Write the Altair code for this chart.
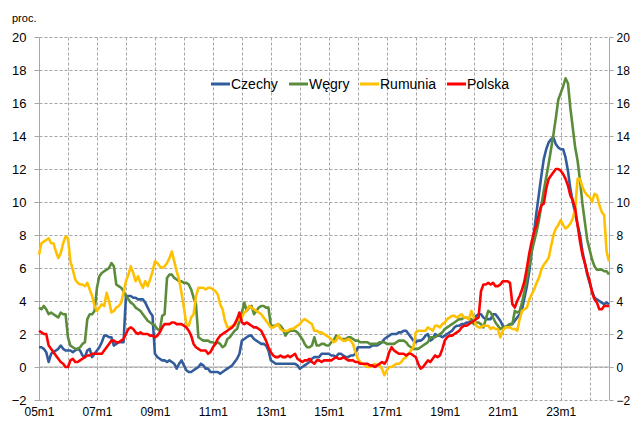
import altair as alt
import pandas as pd

# Monthly values, 2005m1 .. 2024m9 (proc.)
czechy = [
    1.2, 1.2, 1.1, 0.9, 0.3, 0.8, 0.9, 1.0, 1.1, 1.3, 1.1, 1.0,
    1.0, 1.0, 0.9, 1.0, 1.1, 1.0, 0.7, 0.6, 1.0, 1.1, 0.6, 0.8,
    1.0, 1.2, 1.5, 1.9, 1.9, 1.8, 1.8, 1.3, 1.4, 1.5, 1.5, 1.5,
    4.3, 4.3, 4.3, 4.2, 4.2, 4.1, 4.1, 4.1, 3.9, 3.6, 3.3, 3.1,
    0.8, 0.6, 0.5, 0.4, 0.4, 0.3, 0.4, 0.3, 0.2, -0.1, 0.2, 0.4,
    0.1, -0.2, -0.3, -0.3, -0.2, -0.1, 0.0, 0.2, 0.1, -0.1, -0.1, -0.3,
    -0.3, -0.3, -0.3, -0.4, -0.3, -0.2, -0.1, 0.0, 0.1, 0.3, 0.5, 0.8,
    1.6, 1.7, 1.8, 1.9, 1.9, 1.7, 1.6, 1.5, 1.4, 1.4, 1.3, 1.0,
    0.4, 0.3, 0.2, 0.2, 0.2, 0.2, 0.2, 0.2, 0.2, 0.2, 0.2, 0.1,
    -0.1, 0.0, 0.1, 0.2, 0.3, 0.5, 0.6, 0.6, 0.6, 0.8, 0.8, 0.8,
    0.8, 0.7, 0.7, 0.6, 0.8, 0.8, 0.7, 0.6, 0.6, 0.7, 0.7, 0.8,
    1.2, 1.2, 1.2, 1.2, 1.2, 1.2, 1.3, 1.3, 1.3, 1.4, 1.5, 1.7,
    1.8, 1.9, 2.0, 2.0, 2.0, 2.1, 2.1, 2.2, 2.2, 2.0, 1.8, 1.6,
    1.5, 1.6, 1.6, 1.7, 1.9, 2.0, 1.6, 1.7, 2.0, 1.9, 1.9, 1.8,
    1.9, 2.0, 2.1, 2.2, 2.4, 2.5, 2.5, 2.6, 2.6, 2.7, 2.7, 2.8,
    2.8, 3.1, 3.2, 3.2, 3.0, 2.9, 2.9, 2.9, 3.2, 3.2, 3.0, 2.8,
    2.5, 2.4, 2.5, 2.6, 2.6, 2.8, 3.0, 3.2, 3.5, 4.2, 4.9, 5.8,
    7.0, 8.2, 9.4, 10.5, 11.6, 12.6, 13.2, 13.6, 13.8, 13.9, 13.5, 13.3,
    13.2, 13.2, 12.7, 11.9, 10.8, 10.0, 9.3, 8.6, 8.0, 7.0, 6.3, 5.6,
    5.1, 4.6, 4.2, 4.1, 4.0, 3.9, 3.8, 3.9, 3.8,
]
wegry = [
    3.6, 3.5, 3.7, 3.5, 3.2, 3.3, 3.2, 3.1, 3.0, 3.3, 3.2, 3.2,
    1.8, 1.3, 1.2, 1.1, 1.1, 1.2, 1.4, 1.5, 2.9, 3.2, 3.2, 3.4,
    4.8, 5.5, 5.7, 5.8, 5.9, 6.0, 6.3, 6.1, 5.0, 4.9, 4.8, 4.6,
    4.3, 4.1, 3.9, 3.8, 3.6, 3.5, 3.4, 3.2, 3.0, 2.8, 2.7, 2.6,
    2.5, 2.3, 2.2, 3.1, 3.2, 5.4, 5.6, 5.6, 5.4, 5.3, 5.2, 5.2,
    5.1, 5.1, 5.0, 4.7, 4.2, 3.8, 1.8, 1.7, 1.6, 1.6, 1.6, 1.5,
    1.5, 1.4, 1.5, 1.4, 1.2, 1.3, 1.7, 1.8, 2.0, 2.2, 2.3, 2.8,
    3.3, 3.9, 3.4, 3.6, 3.7, 3.2, 3.4, 3.6, 3.7, 3.7, 3.6, 3.6,
    2.5, 2.5, 2.5, 2.6, 2.5, 2.3, 1.9, 2.1, 2.2, 2.2, 2.2, 2.1,
    1.9, 1.7, 1.4, 1.2, 1.2, 1.3, 1.8, 1.3, 1.3, 1.4, 1.4, 1.3,
    1.3, 1.5, 1.6, 1.9, 1.8, 1.7, 1.7, 1.7, 1.8, 1.8, 1.7, 1.6,
    1.6, 1.5, 1.5, 1.5, 1.5, 1.4, 1.4, 1.4, 1.4, 1.5, 1.5, 1.5,
    1.4, 1.4, 1.4, 1.4, 1.5, 1.6, 1.6, 1.6, 1.5, 1.3, 1.2, 1.1,
    1.1, 1.1, 1.2, 1.3, 1.4, 1.5, 1.8, 1.8, 1.8, 1.9, 2.0, 2.1,
    2.3, 2.4, 2.5, 2.6, 2.7, 2.8, 2.9, 2.9, 3.0, 3.0, 2.9, 2.9,
    2.6, 2.7, 2.7, 2.6, 2.4, 2.9, 3.4, 3.3, 3.0, 2.7, 2.5, 2.3,
    2.4, 2.4, 2.5, 2.6, 2.6, 3.4, 3.3, 3.4, 3.9, 4.6, 5.4, 6.1,
    7.0, 7.6, 8.2, 8.9, 9.8, 10.7, 11.5, 12.3, 13.2, 14.1, 15.1, 16.2,
    16.6, 17.0, 17.5, 17.2, 15.7, 14.5, 13.3, 12.5, 11.3, 9.9, 8.8, 7.7,
    7.1, 6.5, 6.1, 5.9, 5.9, 5.9, 5.8, 5.8, 5.6,
]
rumunia = [
    6.8, 7.5, 7.6, 7.7, 7.8, 7.5, 7.5, 7.0, 6.6, 6.9, 7.5, 7.9,
    7.8, 6.4, 5.9, 5.3, 5.1, 5.0, 5.0, 4.9, 5.1, 4.7, 4.3, 3.7,
    3.4, 3.6, 3.8, 3.7, 4.5, 4.0, 3.3, 3.4, 3.6, 3.7, 3.9, 4.5,
    5.2, 5.6, 6.1, 5.7, 5.2, 5.5, 5.1, 4.8, 5.2, 4.9, 5.3, 5.8,
    6.4, 6.3, 6.1, 6.0, 6.1, 6.3, 6.6, 7.0, 6.4, 5.8, 5.3, 4.5,
    3.6, 2.6, 2.5, 3.0, 3.2, 4.3, 4.8, 4.8, 4.8, 4.7, 4.8, 4.8,
    4.7, 4.6, 4.4, 3.8, 3.5, 2.8, 2.4, 2.4, 2.5, 2.5, 2.8, 2.9,
    3.0, 3.3, 3.4, 3.7, 3.6, 3.5, 3.4, 3.3, 3.2, 3.0, 2.8, 2.6,
    2.4, 2.4, 2.5, 2.6, 2.3, 2.2, 2.2, 2.2, 2.3, 2.3, 2.4, 2.5,
    2.6, 2.8, 2.9, 2.8, 2.7, 2.6, 2.2, 2.2, 2.1, 2.1, 2.0, 1.9,
    1.8, 1.7, 1.5, 1.6, 1.9, 1.7, 1.6, 1.6, 1.7, 1.6, 1.4, 0.9,
    0.5, 0.3, 0.2, 0.1, 0.0, 0.0, 0.1, 0.2, 0.1, 0.1, -0.1, -0.5,
    -0.2, 0.0, 0.0, 0.1, 0.2, 0.2, 0.3, 0.5, 0.6, 0.8, 1.0, 1.2,
    2.1, 2.2, 2.2, 2.2, 2.2, 2.4, 2.3, 2.2, 2.5, 2.5, 2.4, 2.6,
    2.7, 2.9, 3.0, 3.1, 3.1, 3.0, 3.1, 3.2, 3.0, 3.0, 2.9, 3.4,
    3.0, 2.5, 2.4, 2.4, 2.5, 2.5, 2.5, 2.3, 2.4, 2.3, 2.3, 1.8,
    2.2, 2.4, 2.4, 2.4, 2.3, 2.3, 2.2, 2.9, 3.4, 3.5, 3.6, 4.1,
    4.4, 4.7, 5.1, 5.4, 5.9, 6.2, 6.4, 6.6, 7.3, 8.0, 8.4, 8.6,
    8.9, 8.6, 8.4, 8.5, 8.7, 9.0, 9.6, 11.4, 11.4, 10.9, 10.6, 10.4,
    10.3, 10.0, 10.5, 10.4, 9.8, 9.4, 9.2, 7.0, 6.4,
]
polska = [
    2.2, 2.1, 2.0, 2.0, 1.3, 1.1, 0.9, 0.7, 0.5, 0.3, 0.2, 0.0,
    0.0, 0.4, 0.5, 0.3, 0.3, 0.4, 0.5, 0.6, 0.7, 0.7, 0.8, 0.8,
    0.8, 0.8, 0.8, 1.0, 1.2, 1.4, 1.6, 1.6, 1.5, 1.5, 1.6, 1.7,
    2.0, 2.3, 2.4, 2.3, 2.1, 2.0, 2.1, 2.0, 2.0, 2.0, 1.9, 1.9,
    1.8, 1.9, 2.1, 2.4, 2.6, 2.6, 2.6, 2.7, 2.7, 2.6, 2.6, 2.6,
    2.5, 2.4, 2.2, 1.9, 1.4, 1.2, 1.1, 1.0, 1.0, 1.0, 0.8, 0.9,
    1.2, 1.4, 1.7, 1.9, 2.0, 2.1, 2.2, 2.3, 2.4, 2.6, 2.9, 3.3,
    2.7, 2.6, 2.7, 2.6, 2.5, 2.4, 2.4, 2.3, 2.2, 1.9, 1.6, 1.2,
    0.9, 0.7, 0.6, 0.6, 0.7, 0.6, 0.6, 0.7, 0.6, 0.7, 0.8, 0.5,
    0.4, 0.3, 0.4, 0.4, 0.5, 0.3, 0.2, 0.4, 0.4, 0.3, 0.4, 0.4,
    0.4, 0.4, 0.5, 0.6, 0.5, 0.5, 0.6, 0.5, 0.4, 0.4, 0.4, 0.3,
    0.3, 0.2, 0.2, 0.2, 0.2, 0.1, 0.1, 0.0, 0.1, 0.2, 0.3, 0.2,
    0.4, 0.9, 1.2, 1.0, 0.9, 0.8, 0.8, 0.8, 0.7, 0.8, 0.8, 0.7,
    0.6, 0.2, -0.1, 0.0, 0.2, 0.4, 0.3, 0.5, 0.7, 0.6, 0.7, 1.1,
    1.6, 1.8, 1.9, 1.9, 2.0, 2.1, 2.2, 2.4, 2.5, 2.5, 2.6, 2.7,
    2.8, 2.9, 3.0, 4.6, 5.0, 5.0, 5.1, 5.0, 5.1, 4.9, 4.9, 5.0,
    5.2, 5.2, 5.2, 5.1, 3.8, 3.6, 4.0, 4.3, 4.7, 5.2, 6.0, 6.9,
    7.6, 8.2, 8.6, 9.3, 9.8, 9.9, 10.8, 11.4, 11.6, 11.8, 12.0, 12.0,
    11.9, 11.7, 11.4, 11.0, 10.4, 10.1, 9.6, 8.6, 7.6, 6.8, 6.3, 5.7,
    5.2, 4.5, 4.1, 3.9, 3.5, 3.5, 3.7, 3.7, 3.7,
]

names = ["Czechy", "Węgry", "Rumunia", "Polska"]
colors = ["#335c9d", "#5b8c3b", "#ffc000", "#ff0000"]
y_ticks = list(range(-2, 21, 2))
x_grid = list(range(0, 237, 12))

rows = []
for name, vals in zip(names, [czechy, wegry, rumunia, polska]):
    for t, v in enumerate(vals):
        rows.append({"t": t, "v": v, "kraj": name})
df = pd.DataFrame(rows)

GRID = "#a6a6a6"
AXIS = "#a6a6a6"
FONT = "Liberation Sans"

yscale = alt.Scale(domain=[-2, 20], nice=False, zero=False)
xscale = alt.Scale(domain=[0, 236], nice=False, zero=False)

x_label = ("datum.value % 24 == 0 ? (datum.value < 60 ? '0' : '') + "
           "(5 + datum.value / 12) + 'm1' : ''")

zero = alt.Chart(pd.DataFrame({"z": [0]})).mark_rule(
    color=AXIS, strokeWidth=1
).encode(
    y=alt.Y("z:Q", scale=yscale,
            axis=alt.Axis(orient="right", values=y_ticks, grid=False,
                          domainColor=AXIS, tickColor=AXIS, tickSize=4,
                          labelPadding=3, labelFontSize=12, labelColor="#000000",
                          labelFont=FONT, title=None))
)

lines = alt.Chart(df).mark_line(strokeWidth=2.6, strokeJoin="round").encode(
    x=alt.X("t:Q", scale=xscale,
            axis=alt.Axis(values=x_grid, grid=True, gridDash=[3, 2], gridColor=GRID,
                          domain=False, ticks=False, labelExpr=x_label,
                          labelOverlap=False, labelFlush=False,
                          labelBaseline="alphabetic",
                          labelFontSize=12, labelPadding=15, labelColor="#000000",
                          labelFont=FONT, title=None)),
    y=alt.Y("v:Q", scale=yscale,
            axis=alt.Axis(orient="left", values=y_ticks, grid=True, gridDash=[3, 2],
                          gridColor=GRID, domainColor=AXIS, tickColor=AXIS,
                          tickSize=5, labelPadding=8, labelFontSize=13,
                          labelColor="#000000", labelFont=FONT, title=None)),
    color=alt.Color("kraj:N", scale=alt.Scale(domain=names, range=colors),
                    legend=None),
)

# Legend drawn as rules + labels inside the plot area
LEG_Y = 47
legend_x = [172, 250, 321, 408]
legend_layers = []
for name, col, sx in zip(names, colors, legend_x):
    one = pd.DataFrame({"s": [name]})
    legend_layers.append(
        alt.Chart(one).mark_rule(color=col, strokeWidth=3).encode(
            x=alt.value(sx), x2=alt.value(sx + 19), y=alt.value(LEG_Y))
    )
    legend_layers.append(
        alt.Chart(one).mark_text(align="left", baseline="middle", fontSize=14,
                                 font=FONT, color="#000000").encode(
            x=alt.value(sx + 20), y=alt.value(LEG_Y + 0.5), text="s:N")
    )

proc = alt.Chart(pd.DataFrame({"s": ["proc."]})).mark_text(
    align="left", baseline="alphabetic", fontSize=11, font=FONT, color="#000000",
    x=-27, y=-15
).encode(text="s:N")

chart = alt.layer(zero, lines, *legend_layers, proc).resolve_scale(
    y="independent"
).properties(
    width=570, height=363,
    autosize=alt.AutoSizeParams(type="none"),
    padding={"left": 31, "top": 29, "right": 21, "bottom": 17},
).configure_view(stroke=None)

chart.save("out.html", embed_options={"renderer": "svg", "actions": False})
